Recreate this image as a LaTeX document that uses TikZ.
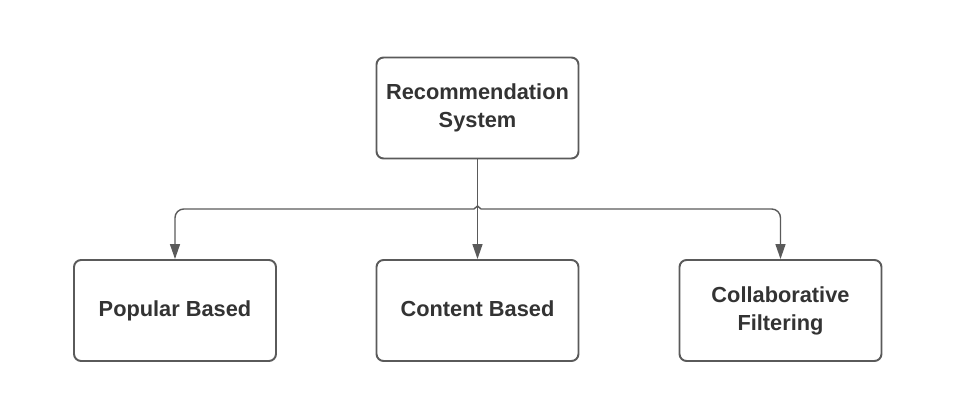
\documentclass[tikz,border=0pt]{standalone}
\usepackage{fontspec}
\setmainfont{Liberation Sans}
\usepackage{tikz}
\usetikzlibrary{arrows.meta,positioning,calc}
\definecolor{boxline}{HTML}{5A5A5A}
\definecolor{boxtext}{HTML}{333333}

\begin{document}
\begin{tikzpicture}[
  x=0.02cm, y=-0.02cm,
  box/.style={draw=boxline, line width=1.1pt, rounded corners=4pt, fill=white, minimum width=4.04cm, minimum height=2.02cm, align=center, font=\fontsize{12.4}{16}\selectfont\bfseries, text=boxtext, execute at end node=\vphantom{y}},
  conn/.style={draw=boxline, line width=0.8pt},
  >={Triangle[length=0.3cm,width=0.2cm]}
]
\useasboundingbox (0,0) rectangle (965,405);

\node[box] (rec) at (477.5,108)   {Recommendation\\System};
\node[box] (pop) at (175,310.5)   {Popular Based};
\node[box] (con) at (477.5,310.5) {Content Based};
\node[box] (col) at (780.5,310.5) {Collaborative\\Filtering};

% branching point below the root box
\coordinate (hub) at (477.5,209);

% trunk straight down into the middle box
\draw[conn,->] (rec.south) -- (con.north);

% side branches -- each leaves just beside the hub so the small hop sits on the trunk
\draw[conn,->,rounded corners=5pt] ($(hub)+(-3.5,0)$) -| (pop.north);
\draw[conn,->,rounded corners=5pt] ($(hub)+(3.5,0)$) -| (col.north);
\draw[conn] ($(hub)+(-3.5,0)$) -- ($(hub)+(0,-3)$) -- ($(hub)+(3.5,0)$);
\end{tikzpicture}
\end{document}
